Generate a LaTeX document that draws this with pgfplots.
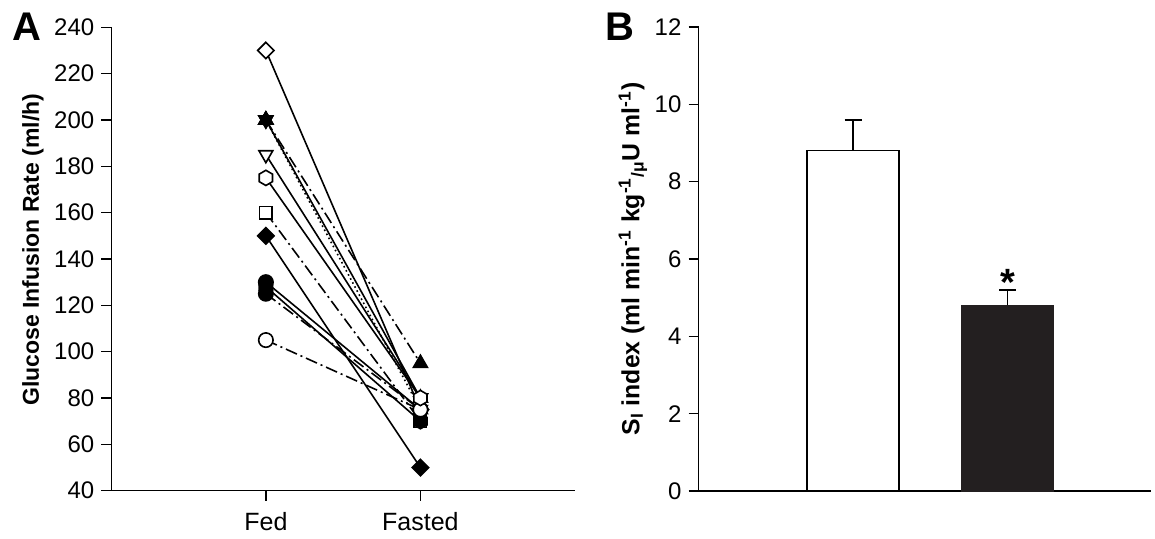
\documentclass[border=0pt]{standalone}
\usepackage{fontspec}
\setmainfont{Liberation Sans}
\usepackage{pgfplots}
\pgfplotsset{compat=1.18}
\pgfdeclareplotmark{hexstar}{%
 \pgfpathmoveto{\pgfqpointpolar{90}{\pgfplotmarksize}}%
 \pgfpathlineto{\pgfqpointpolar{210}{\pgfplotmarksize}}%
 \pgfpathlineto{\pgfqpointpolar{330}{\pgfplotmarksize}}%
 \pgfpathclose
 \pgfpathmoveto{\pgfqpointpolar{270}{\pgfplotmarksize}}%
 \pgfpathlineto{\pgfqpointpolar{30}{\pgfplotmarksize}}%
 \pgfpathlineto{\pgfqpointpolar{150}{\pgfplotmarksize}}%
 \pgfpathclose
 \pgfusepathqfillstroke}
\pgfdeclareplotmark{hexagon}{%
 \pgfpathmoveto{\pgfqpointpolar{90}{\pgfplotmarksize}}%
 \pgfpathlineto{\pgfqpointpolar{150}{\pgfplotmarksize}}%
 \pgfpathlineto{\pgfqpointpolar{210}{\pgfplotmarksize}}%
 \pgfpathlineto{\pgfqpointpolar{270}{\pgfplotmarksize}}%
 \pgfpathlineto{\pgfqpointpolar{330}{\pgfplotmarksize}}%
 \pgfpathlineto{\pgfqpointpolar{30}{\pgfplotmarksize}}%
 \pgfpathclose
 \pgfusepathqfillstroke}
\tikzset{
 dashdot/.style={dash pattern=on 6pt off 2pt on 1pt off 2pt},
 dotline/.style={dash pattern=on 0.8pt off 1.5pt},
}
\definecolor{barblack}{HTML}{231F20}
\pgfplotsset{
 common/.style={
  scale only axis,
  axis x line*=bottom, axis y line*=left,
  axis line style={line width=0.75pt, black},
  tick align=outside,
  major tick length=5pt,
  tick style={line width=0.75pt, black},
  tick label style={font=\fontsize{12}{14}\selectfont},
  /pgf/number format/assume math mode=true,
  ylabel style={font=\fontsize{11.5}{13}\selectfont\bfseries, anchor=center},
 },
}
\begin{document}
\begin{tikzpicture}
\path[use as bounding box] (0,0) rectangle (577.5pt,269.5pt);
\node[font=\fontsize{20}{20}\selectfont\bfseries] at (13.5pt,256pt) {A};
\node[font=\fontsize{20}{20}\selectfont\bfseries] at (310pt,256pt) {B};
\begin{axis}[common,
  anchor=south west, at={(55.65pt,24.15pt)},
  width=231.85pt, height=231.7pt,
  xmin=0, xmax=3, ymin=40, ymax=240,
  xtick={1,2}, xticklabels={Fed,Fasted},
  xticklabel style={font=\fontsize{12.5}{14}\selectfont, yshift=-2.5pt},
  ytick={40,60,...,240},
  ylabel={Glucose Infusion Rate (ml/h)},
  ylabel style={at={(axis description cs:-0.169,0.52)}},
  clip=false,
  every axis plot/.append style={black, line width=0.8pt},
]
% open diamond
\addplot[solid, mark=square*, mark options={solid, rotate=45, fill=white, mark size=2.9pt}] coordinates {(1,230) (2,75)};
% hidden dotted series from 200
\addplot[dotline, mark=hexstar, mark options={solid, fill=black, mark size=4pt}] coordinates {(1,200) (2,75)};
% filled triangle
\addplot[dashdot, mark=triangle*, mark options={solid, fill=black, mark size=4pt}] coordinates {(1,200) (2,95)};
% star
\addplot[solid, mark=hexstar, mark options={solid, fill=black, mark size=4pt}] coordinates {(1,200) (2,80)};
% open down triangle
\addplot[solid, mark=triangle*, mark options={solid, rotate=180, fill=white, mark size=4pt}] coordinates {(1,185) (2,80)};
% open square
\addplot[dashdot, mark=square*, mark options={solid, fill=white, mark size=3.1pt}] coordinates {(1,160) (2,70)};
% filled diamond
\addplot[solid, mark=square*, mark options={solid, rotate=45, fill=black, mark size=2.9pt}] coordinates {(1,150) (2,50)};
% filled circle
\addplot[solid, mark=*, mark options={solid, fill=black, mark size=3.6pt}] coordinates {(1,130) (2,75)};
% filled, dash-dot
\addplot[dashdot, mark=*, mark options={solid, fill=black, mark size=3.6pt}] coordinates {(1,125) (2,75)};
% filled hexagon
\addplot[solid, mark=hexagon, mark options={solid, fill=black, mark size=3.8pt}] coordinates {(1,128) (2,70)};
% open circle
\addplot[dashdot, mark=*, mark options={solid, fill=white, mark size=3.6pt}] coordinates {(1,105) (2,75)};
% open hexagon
\addplot[solid, mark=hexagon, mark options={solid, fill=white, mark size=3.8pt}] coordinates {(1,175) (2,80)};
\end{axis}
\begin{axis}[common,
  anchor=south west, at={(349.25pt,24pt)},
  width=226.35pt, height=232pt,
  xmin=0, xmax=2.93, ymin=0, ymax=12,
  xtick=\empty,
  ytick={0,2,...,12},
  ylabel={S\textsubscript{I} index (ml min\textsuperscript{-1} kg\textsuperscript{-1}\textsubscript{/μ}U ml\textsuperscript{-1})},
  ylabel style={font=\fontsize{12.4}{14}\selectfont\bfseries, at={(axis description cs:-0.145,0.5)}},
  ybar, bar width=46pt, bar shift=0pt,
  clip=false,
]
\addplot[draw=black, line width=0.75pt, fill=white,
  error bars/.cd, y dir=plus, y explicit,
  error bar style={line width=0.75pt, black},
  error mark options={rotate=90, mark size=4.25pt, line width=0.75pt, black}]
  coordinates {(1,8.8) +- (0,0.8)};
\addplot[draw=barblack, line width=0.75pt, fill=barblack,
  error bars/.cd, y dir=plus, y explicit,
  error bar style={line width=0.75pt, black},
  error mark options={rotate=90, mark size=4.25pt, line width=0.75pt, black}]
  coordinates {(2,4.8) +- (0,0.4)};
\node[font=\fontsize{19}{19}\selectfont\bfseries] at (axis cs:2,5.4) {*};
\end{axis}
\end{tikzpicture}
\end{document}
